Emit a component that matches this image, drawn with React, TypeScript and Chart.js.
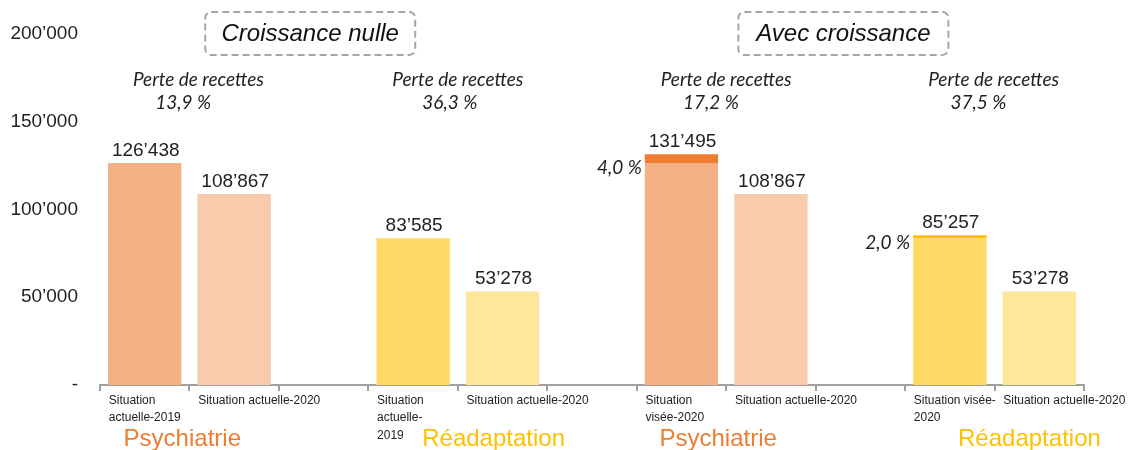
import React, { useEffect, useRef } from "react";
import { Chart, registerables } from "chart.js";

Chart.register(...registerables);

// ---- data ----
const categories: (string | string[])[] = [
  ["Situation", "actuelle-2019"],
  "Situation actuelle-2020",
  "",
  ["Situation", "actuelle-", "2019"],
  "Situation actuelle-2020",
  "",
  ["Situation", "visée-2020"],
  "Situation actuelle-2020",
  "",
  ["Situation visée-", "2020"],
  "Situation actuelle-2020",
];
const baseValues = [126438, 108867, null, 83585, 53278, null, 126438, 108867, null, 83585, 53278];
const growthValues = [null, null, null, null, null, null, 5057, null, null, 1672, null];
const totalValues = [126438, 108867, null, 83585, 53278, null, 131495, 108867, null, 85257, 53278];
const growthLabels = [null, null, null, null, null, null, "4,0 %", null, null, "2,0 %", null];
const yTickValues = [0, 50000, 100000, 150000, 200000];
const scenarioTitles = ["Croissance nulle", "Avec croissance"];
const lossTitle = "Perte de recettes";
const lossRates = ["13,9 %", "36,3 %", "17,2 %", "37,5 %"];
const groupNames = ["Psychiatrie", "Réadaptation", "Psychiatrie", "Réadaptation"];

// ---- styles / layout ----
const baseColors = ["#F4B183", "#F8CBAD", "#FFFFFF", "#FFD966", "#FFE699", "#FFFFFF", "#F4B183", "#F8CBAD", "#FFFFFF", "#FFD966", "#FFE699"];
const growthColors = ["#ED7D31", "#ED7D31", "#ED7D31", "#ED7D31", "#ED7D31", "#ED7D31", "#ED7D31", "#ED7D31", "#ED7D31", "#FFC000", "#FFC000"];
const groupColors = ["#ED7D31", "#FFC000", "#ED7D31", "#FFC000"];
const scenarioPos = [1.85, 7.81];
const lossTitlePos = [0.6, 3.5, 6.5, 9.49];
const lossRatePos = [0.43, 3.41, 6.33, 9.32];
const groupPos = [0.42, 3.9, 6.41, 9.89];

const SANS = "'Liberation Sans', Arial, sans-serif";
const CAL = "Lato, 'Open Sans', sans-serif";

function fmt(n: number): string {
  return String(n).replace(/\B(?=(\d{3})+(?!\d))/g, "\u2019");
}

const annotations = {
  id: "annotations",
  afterDraw(chart: any) {
    const ctx = chart.ctx;
    const xs = chart.scales.x;
    const ys = chart.scales.y;
    const area = chart.chartArea;
    ctx.save();

    // scenario boxes
    scenarioTitles.forEach((t, i) => {
      const cx = xs.getPixelForValue(scenarioPos[i]);
      const w = 210, h = 43, top = 12;
      ctx.beginPath();
      ctx.setLineDash([7, 4]);
      ctx.lineWidth = 2;
      ctx.strokeStyle = "#A6A6A6";
      (ctx as any).roundRect(cx - w / 2, top, w, h, 6);
      ctx.stroke();
      ctx.setLineDash([]);
      ctx.fillStyle = "#111";
      ctx.font = `italic 24px ${SANS}`;
      ctx.textAlign = "center";
      ctx.textBaseline = "middle";
      ctx.fillText(t, cx, top + h / 2 + 1);
    });

    // loss annotations
    ctx.font = `italic 19px ${CAL}`;
    ctx.fillStyle = "#222";
    ctx.textAlign = "center";
    ctx.textBaseline = "middle";
    lossRates.forEach((r, i) => {
      ctx.fillText(lossTitle, xs.getPixelForValue(lossTitlePos[i]), area.top + 46);
      ctx.fillText(r, xs.getPixelForValue(lossRatePos[i]), area.top + 69);
    });

    // value labels
    const meta = chart.getDatasetMeta(0);
    ctx.font = `19px ${SANS}`;
    ctx.fillStyle = "#222";
    ctx.textAlign = "center";
    ctx.textBaseline = "alphabetic";
    totalValues.forEach((v, i) => {
      if (v == null) return;
      const bar = meta.data[i];
      ctx.fillText(fmt(v), bar.x + 1, ys.getPixelForValue(v) - 7);
    });

    // growth labels
    ctx.font = `italic 19px ${CAL}`;
    ctx.textAlign = "right";
    ctx.textBaseline = "middle";
    growthLabels.forEach((g, i) => {
      if (!g) return;
      const bar: any = meta.data[i];
      const left = bar.x - bar.width / 2;
      ctx.fillText(g, left - 3, ys.getPixelForValue(baseValues[i] as number) + 5);
    });

    // group names
    ctx.font = `24px ${SANS}`;
    ctx.textAlign = "center";
    ctx.textBaseline = "alphabetic";
    groupNames.forEach((g, i) => {
      ctx.fillStyle = groupColors[i];
      ctx.fillText(g, xs.getPixelForValue(groupPos[i]), 446);
    });

    ctx.restore();
  },
};

export default function App() {
  const ref = useRef<HTMLCanvasElement>(null);
  useEffect(() => {
    if (!ref.current) return;
    const chart = new Chart(ref.current, {
      type: "bar",
      data: {
        labels: categories as any,
        datasets: [
          {
            data: baseValues as any,
            backgroundColor: baseColors,
            barPercentage: 0.82,
            categoryPercentage: 1,
          },
          {
            data: growthValues as any,
            backgroundColor: growthColors,
            barPercentage: 0.82,
            categoryPercentage: 1,
          },
        ],
      },
      options: {
        animation: false,
        responsive: true,
        maintainAspectRatio: false,
        layout: { padding: { left: 0, top: 34, right: 46, bottom: 0 } },
        plugins: { legend: { display: false }, tooltip: { enabled: false } },
        scales: {
          x: {
            stacked: true,
            grid: {
              display: true,
              drawOnChartArea: false,
              drawTicks: true,
              tickLength: 6,
              color: "#A0A0A0",
              lineWidth: 2,
              offset: true,
            },
            border: { display: true, color: "#A0A0A0", width: 2 },
            ticks: {
              autoSkip: false,
              maxRotation: 0,
              minRotation: 0,
              align: "start",
              labelOffset: -36,
              padding: 1,
              color: "#222",
              font: { family: SANS, size: 12, lineHeight: 1.45 },
            },
            afterFit: (s: any) => {
              s.height = 65;
              s.paddingLeft = 0;
              s.paddingRight = 0;
            },
          },
          y: {
            stacked: true,
            min: 0,
            max: 200000,
            grid: { display: false, drawTicks: false },
            border: { display: false },
            afterBuildTicks: (s: any) => {
              s.ticks = yTickValues.map((v) => ({ value: v }));
            },
            ticks: {
              padding: 22,
              color: "#222",
              font: { family: SANS, size: 19 },
              callback: (v: any) => (v === 0 ? "-" : fmt(Number(v))),
            },
            afterFit: (s: any) => {
              s.width = 100;
            },
          },
        },
      },
      plugins: [annotations],
    });
    return () => chart.destroy();
  }, []);
  return (
    <div style={{ position: "absolute", left: 0, top: 0, width: 1130, height: 450 }}>
      <canvas ref={ref} />
    </div>
  );
}
